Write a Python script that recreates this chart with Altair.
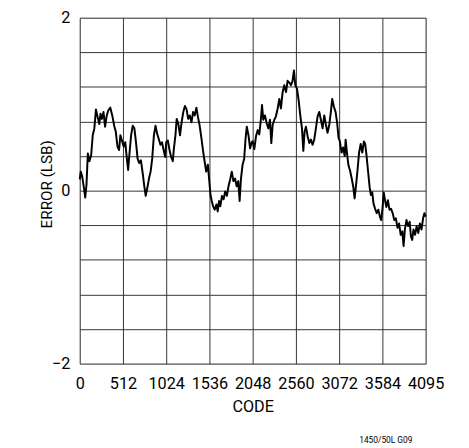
import altair as alt
import pandas as pd

codes = [0, 12, 30, 50, 65, 80, 96, 115, 135, 154, 173, 192, 212, 231, 246, 262, 281, 300, 320, 339,
         362, 385, 408, 427, 447, 466, 481, 500, 520, 539, 558, 573, 589, 608, 627, 647, 666, 685, 704, 724,
         743, 762, 781, 800, 820, 839, 858, 878, 897, 916, 935, 955, 974, 993, 1012,
         1024, 1043, 1063, 1082, 1102, 1113, 1133, 1148, 1168, 1187, 1206, 1226, 1245, 1265, 1284, 1303,
         1323, 1342, 1361, 1381, 1400, 1420, 1439, 1459, 1478, 1497, 1517, 1532, 1548, 1563, 1579, 1598,
         1618, 1633, 1649, 1664, 1684, 1703, 1722, 1742, 1761, 1781, 1800, 1819, 1839, 1858, 1877, 1893,
         1909, 1928, 1947, 1963, 1978, 1998, 2017, 2036,
         2048, 2067, 2087, 2107, 2126, 2146, 2158, 2173, 2193, 2213, 2233, 2252, 2268, 2284, 2304, 2323,
         2343, 2363, 2382, 2402, 2422, 2442, 2461, 2481, 2501, 2520, 2536, 2552, 2572, 2591, 2611, 2631,
         2647, 2662, 2678, 2698, 2718, 2737, 2757, 2776, 2796, 2816, 2836, 2855, 2875, 2895, 2915, 2934,
         2954, 2973, 2989, 3009, 3029, 3048, 3064,
         3080, 3099, 3118, 3137, 3148, 3163, 3182, 3201, 3220, 3239, 3254, 3269, 3288, 3307, 3326, 3345,
         3364, 3379, 3394, 3413, 3432, 3447, 3463, 3478, 3497, 3516, 3535, 3554, 3569, 3584, 3599, 3614,
         3630, 3648, 3667, 3686, 3705, 3724, 3743, 3762, 3781, 3800, 3819, 3834, 3849, 3868, 3887, 3906,
         3921, 3936, 3951, 3970, 3989, 4008, 4027, 4046, 4065, 4080, 4095]

errors = [0.13, 0.22, 0.16, 0.03, -0.08, 0.07, 0.43, 0.34, 0.41, 0.64, 0.72, 0.94, 0.85, 0.77, 0.89, 0.83, 0.91, 0.74, 0.87, 0.93,
          0.96, 0.87, 0.75, 0.68, 0.51, 0.47, 0.64, 0.58, 0.51, 0.56, 0.37, 0.24, 0.43, 0.64, 0.75, 0.72, 0.56, 0.37, 0.32, 0.35,
          0.22, 0.07, -0.06, 0.03, 0.14, 0.22, 0.37, 0.64, 0.75, 0.66, 0.60, 0.53, 0.56, 0.47, 0.39,
          0.56, 0.58, 0.47, 0.39, 0.34, 0.47, 0.64, 0.83, 0.77, 0.64, 0.79, 0.91, 0.98, 0.94, 0.83, 0.87,
          0.79, 0.91, 0.87, 0.96, 0.85, 0.75, 0.62, 0.47, 0.34, 0.22, 0.30, 0.13, -0.05, -0.12, -0.18, -0.22,
          -0.16, -0.24, -0.12, -0.18, -0.06, -0.10, -0.01, -0.06, 0.05, 0.13, 0.22, 0.11, 0.14, 0.05, 0.11, -0.12,
          0.14, 0.30, 0.37, 0.60, 0.74, 0.64, 0.49, 0.56,
          0.57, 0.48, 0.63, 0.70, 0.65, 0.84, 0.99, 0.82, 0.87, 0.78, 0.72, 0.82, 0.55, 0.76, 0.82, 0.86,
          0.95, 1.06, 0.95, 1.14, 1.22, 1.14, 1.27, 1.25, 1.22, 1.27, 1.39, 1.22, 1.18, 1.05, 0.87, 0.72,
          0.46, 0.68, 0.74, 0.63, 0.55, 0.59, 0.53, 0.59, 0.72, 0.86, 0.91, 0.82, 0.72, 0.87, 0.76, 0.67,
          0.76, 0.91, 1.06, 0.97, 0.91, 0.78, 0.61,
          0.57, 0.44, 0.50, 0.40, 0.59, 0.44, 0.29, 0.23, 0.14, 0.04, -0.09, 0.04, 0.23, 0.44, 0.54, 0.44,
          0.57, 0.54, 0.42, 0.23, 0.04, -0.05, -0.02, -0.15, -0.21, -0.26, -0.22, -0.30, -0.34, -0.21, -0.02, -0.11,
          -0.19, -0.11, -0.22, -0.21, -0.26, -0.34, -0.32, -0.43, -0.38, -0.51, -0.47, -0.64, -0.45, -0.34, -0.41, -0.36,
          -0.53, -0.57, -0.45, -0.51, -0.41, -0.49, -0.38, -0.45, -0.32, -0.26, -0.30]

x_ticks = [0, 512, 1024, 1536, 2048, 2560, 3072, 3584, 4095]
y_ticks = [-2, -1.6, -1.2, -0.8, -0.4, 0, 0.4, 0.8, 1.2, 1.6, 2]
note = "1450/50L G09"

df = pd.DataFrame({"code": codes, "err": errors})

FONT = "Roboto, Liberation Sans, sans-serif"

line = alt.Chart(df).mark_line(color="black", strokeWidth=2, strokeJoin="round").encode(
    x=alt.X("code:Q",
            scale=alt.Scale(domain=[0, 4095], nice=False, zero=False),
            axis=alt.Axis(values=x_ticks, format="d", title="CODE", grid=True, gridColor="#333333",
                          gridWidth=1, ticks=False, domain=False, labelPadding=12, labelFontSize=16.5,
                          labelFont=FONT, labelColor="black", labelOverlap=False, labelFlush=False,
                          titleFont=FONT, titleFontSize=16.5, titleFontWeight="normal",
                          titleColor="black", titleY=44, titleBaseline="middle")),
    y=alt.Y("err:Q",
            scale=alt.Scale(domain=[-2, 2], nice=False),
            axis=alt.Axis(values=y_ticks, title="ERROR (LSB)", grid=True, gridColor="#333333",
                          gridWidth=1, ticks=False, domain=False, labelPadding=10, labelFontSize=16.5,
                          labelFont=FONT, labelColor="black", labelOverlap=False,
                          titleFont=FONT, titleFontSize=15.5, titleFontWeight="normal", titleColor="black",
                          titleX=-34, titleY=169, titleAngle=270, titleBaseline="middle",
                          titleAlign="center",
                          labelExpr="abs(datum.value - 2) < 0.01 ? '2' : (abs(datum.value) < 0.01 ? '0' : (abs(datum.value + 2) < 0.01 ? '\u22122' : ''))")),
)

foot = alt.Chart(pd.DataFrame({"t": [note]})).mark_text(
    font=FONT, fontSize=8.5, color="black", align="center", baseline="middle"
).encode(x=alt.value(311.5), y=alt.value(430), text="t:N")

chart = alt.layer(line, foot).properties(
    width=352, height=352,
    autosize=alt.AutoSizeParams(type="none"),
    padding={"left": 73, "top": 6, "right": 36, "bottom": 82},
).configure_view(stroke="black", strokeWidth=1.6).configure(background="white")

chart.save("out.html", embed_options={"renderer": "svg", "actions": False})
